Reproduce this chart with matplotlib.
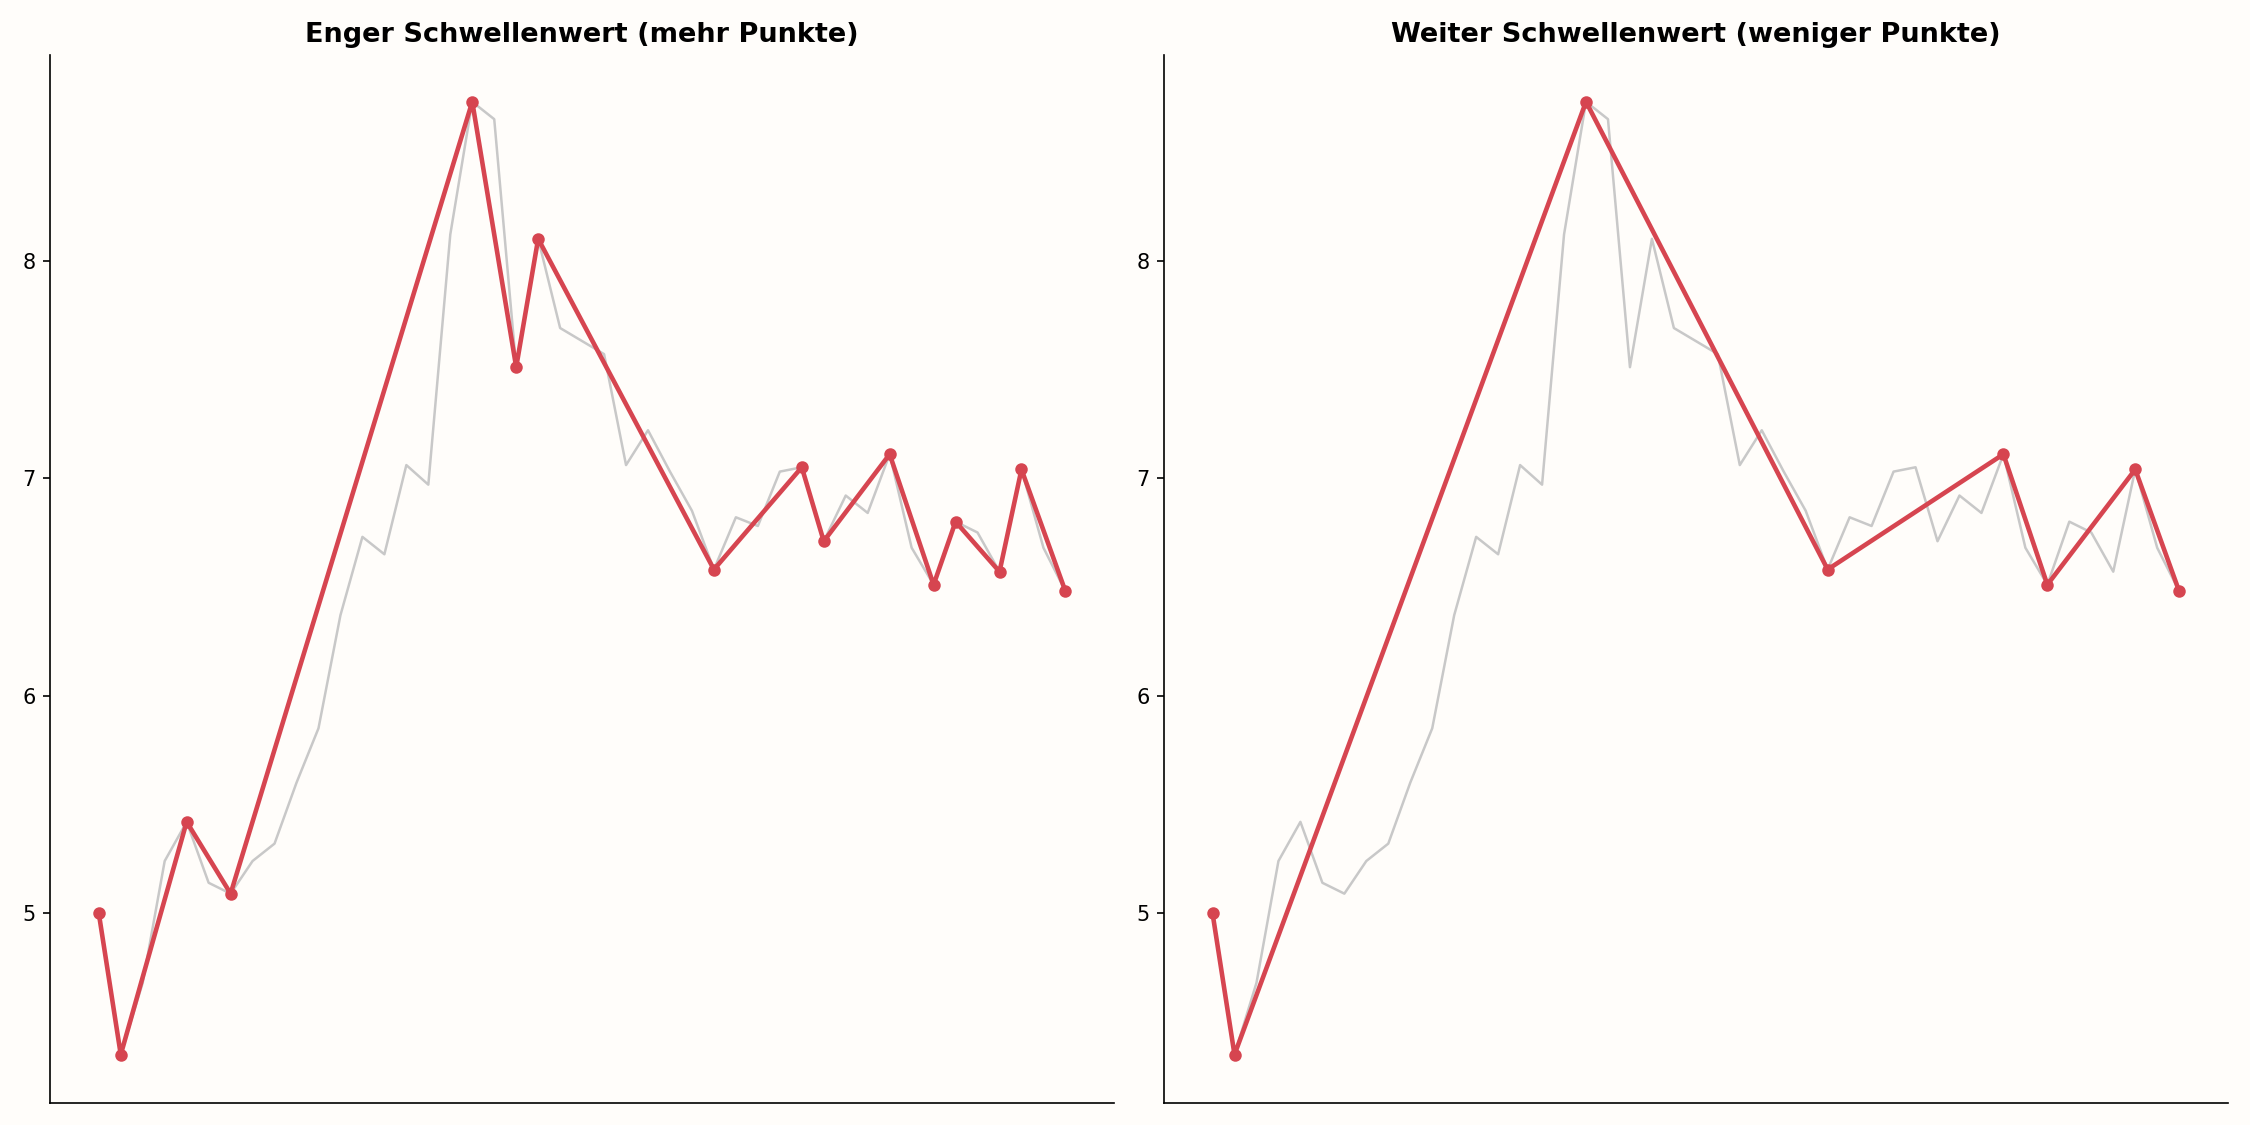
import numpy as np
import matplotlib
matplotlib.use("Agg")
import matplotlib.pyplot as plt

series = [5.0, 4.35, 4.68, 5.24, 5.42, 5.14, 5.09, 5.24, 5.32, 5.6, 5.85, 6.37, 6.73, 6.65,
          7.06, 6.97, 8.12, 8.73, 8.65, 7.51, 8.1, 7.69, 7.63, 7.57, 7.06, 7.22, 7.03, 6.85,
          6.58, 6.82, 6.78, 7.03, 7.05, 6.71, 6.92, 6.84, 7.11, 6.68, 6.51, 6.8, 6.75, 6.57,
          7.04, 6.68, 6.48]
narrow_idx = [0, 1, 4, 6, 17, 19, 20, 28, 32, 33, 36, 38, 39, 41, 42, 44]
wide_idx = [0, 1, 17, 28, 36, 38, 42, 44]
titles = ["Enger Schwellenwert (mehr Punkte)", "Weiter Schwellenwert (weniger Punkte)"]

bg = "#fffdfa"
red = "#d64550"
y = np.array(series)
x = np.arange(len(y))

fig, axes = plt.subplots(1, 2, figsize=(15, 7.5), dpi=150, facecolor=bg)
for ax, idx, title in zip(axes, [narrow_idx, wide_idx], titles):
    ax.set_facecolor(bg)
    ax.plot(x, y, color="#c8c8c8", lw=1.2)
    ax.plot(x[idx], y[idx], color=red, lw=2.2, marker="o", ms=5)
    ax.set_title(title, fontsize=13, fontweight="bold")
    ax.set_xticks([])
    ax.set_yticks([5, 6, 7, 8])
    ax.set_ylim(4.13, 8.945)
    for s in ["top", "right"]:
        ax.spines[s].set_visible(False)
fig.tight_layout()
fig.savefig("out.png", dpi=150, facecolor=bg)
